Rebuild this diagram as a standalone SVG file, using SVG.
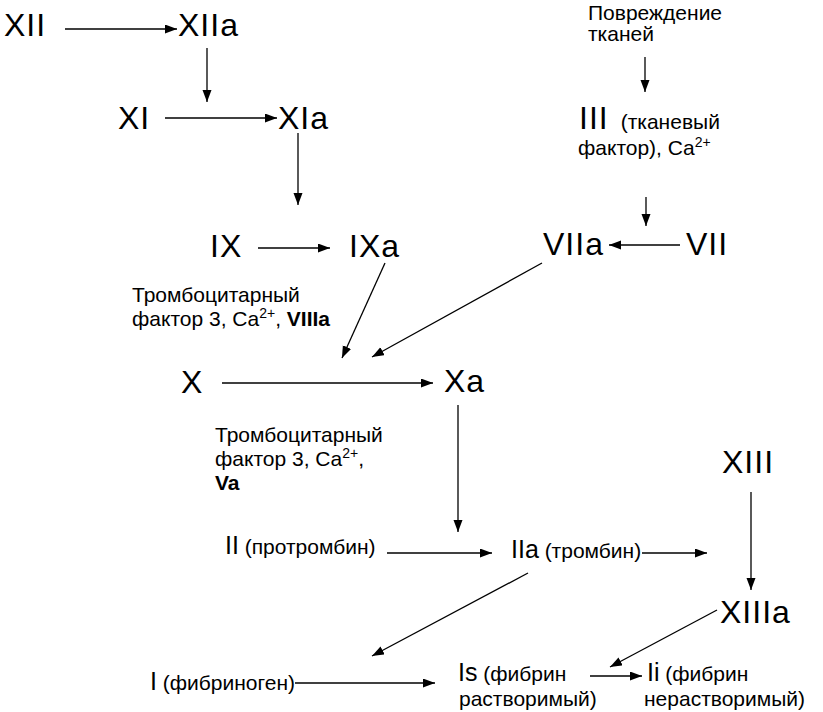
<svg xmlns="http://www.w3.org/2000/svg" width="823" height="712" viewBox="0 0 823 712">
  <style>
    text { font-family: "Liberation Sans", Arial, sans-serif; fill: #000; }
    .big { font-size: 32px; letter-spacing: 1px; }
    .mid { font-size: 25px; }
    .sm { font-size: 21px; }
    .sup { font-size: 14px; }
    .b { font-weight: bold; }
    .ln { stroke: #000; stroke-width: 1.3; fill: none; marker-end: url(#ah); }
  </style>
  <defs>
    <marker id="ah" markerUnits="userSpaceOnUse" markerWidth="13" markerHeight="10" refX="12" refY="4.5" orient="auto">
      <path d="M0,0 L12,4.5 L0,9 Z" fill="#000"/>
    </marker>
  </defs>

  <!-- factor labels -->
  <g id="n-xii"><text class="big" x="4" y="36">XII</text></g>
  <g id="n-xiia"><text class="big" x="178" y="36">XIIa</text></g>
  <g id="n-xi"><text class="big" x="118" y="129">XI</text></g>
  <g id="n-xia"><text class="big" x="278" y="129">XIa</text></g>
  <g id="n-ix"><text class="big" x="210" y="257">IX</text></g>
  <g id="n-ixa"><text class="big" x="349" y="257">IXa</text></g>
  <g id="n-injury">
    <text class="sm" x="588" y="20">Повреждение</text>
    <text class="sm" x="588" y="41">тканей</text>
  </g>
  <g id="n-iii">
    <text x="579" y="129"><tspan class="big">III</tspan><tspan class="sm" dx="12">(тканевый</tspan></text>
    <text class="sm" x="578" y="155">фактор), Ca<tspan class="sup" dy="-8">2+</tspan></text>
  </g>
  <g id="n-viia"><text class="big" x="543" y="255">VIIa</text></g>
  <g id="n-vii"><text class="big" x="686" y="255">VII</text></g>
  <g id="n-cof1">
    <text class="sm" x="132" y="302">Тромбоцитарный</text>
    <text class="sm" x="132" y="326">фактор 3, Ca<tspan class="sup" dy="-8">2+</tspan><tspan dy="8">, </tspan><tspan class="b">VIIIa</tspan></text>
  </g>
  <g id="n-x"><text class="big" x="181" y="393">X</text></g>
  <g id="n-xa"><text class="big" x="444" y="392">Xa</text></g>
  <g id="n-cof2">
    <text class="sm" x="215" y="442">Тромбоцитарный</text>
    <text class="sm" x="215" y="466">фактор 3, Ca<tspan class="sup" dy="-8">2+</tspan><tspan dy="8">,</tspan></text>
    <text class="sm b" x="215" y="490">Va</text>
  </g>
  <g id="n-ii"><text x="225" y="554"><tspan class="mid">II</tspan><tspan class="sm"> (протромбин)</tspan></text></g>
  <g id="n-iia"><text x="511" y="558"><tspan class="mid">IIa</tspan><tspan class="sm"> (тромбин)</tspan></text></g>
  <g id="n-xiii"><text class="big" x="722" y="473">XIII</text></g>
  <g id="n-xiiia"><text class="big" x="720" y="623">XIIIa</text></g>
  <g id="n-i"><text x="150" y="690"><tspan class="mid">I</tspan><tspan class="sm"> (фибриноген)</tspan></text></g>
  <g id="n-is">
    <text x="458" y="681"><tspan class="mid">Is</tspan><tspan class="sm"> (фибрин</tspan></text>
    <text class="sm" x="459" y="706">растворимый)</text>
  </g>
  <g id="n-ii-ins">
    <text x="647" y="681"><tspan class="mid">Ii</tspan><tspan class="sm"> (фибрин</tspan></text>
    <text class="sm" x="644" y="706">нерастворимый)</text>
  </g>

  <!-- connectors -->
  <g id="connectors">
    <line class="ln" x1="65" y1="29" x2="177" y2="29"/>
    <line class="ln" x1="207" y1="48" x2="207" y2="102"/>
    <line class="ln" x1="165" y1="118" x2="277" y2="118"/>
    <line class="ln" x1="298" y1="133" x2="298" y2="205"/>
    <line class="ln" x1="258" y1="248" x2="330" y2="248"/>
    <line class="ln" x1="645" y1="57" x2="645" y2="92"/>
    <line class="ln" x1="646" y1="197" x2="646" y2="226"/>
    <line class="ln" x1="680" y1="245" x2="609" y2="245"/>
    <line class="ln" x1="385" y1="263" x2="342" y2="358"/>
    <line class="ln" x1="542" y1="263" x2="372" y2="357"/>
    <line class="ln" x1="222" y1="383" x2="433" y2="383"/>
    <line class="ln" x1="458" y1="405" x2="458" y2="532"/>
    <line class="ln" x1="387" y1="553" x2="492" y2="553"/>
    <line class="ln" x1="642" y1="553" x2="707" y2="553"/>
    <line class="ln" x1="751" y1="492" x2="751" y2="590"/>
    <line class="ln" x1="528" y1="573" x2="372" y2="656"/>
    <line class="ln" x1="717" y1="610" x2="610" y2="667"/>
    <line class="ln" x1="295" y1="683" x2="435" y2="683"/>
    <line class="ln" x1="590" y1="676" x2="642" y2="676"/>
  </g>
</svg>
